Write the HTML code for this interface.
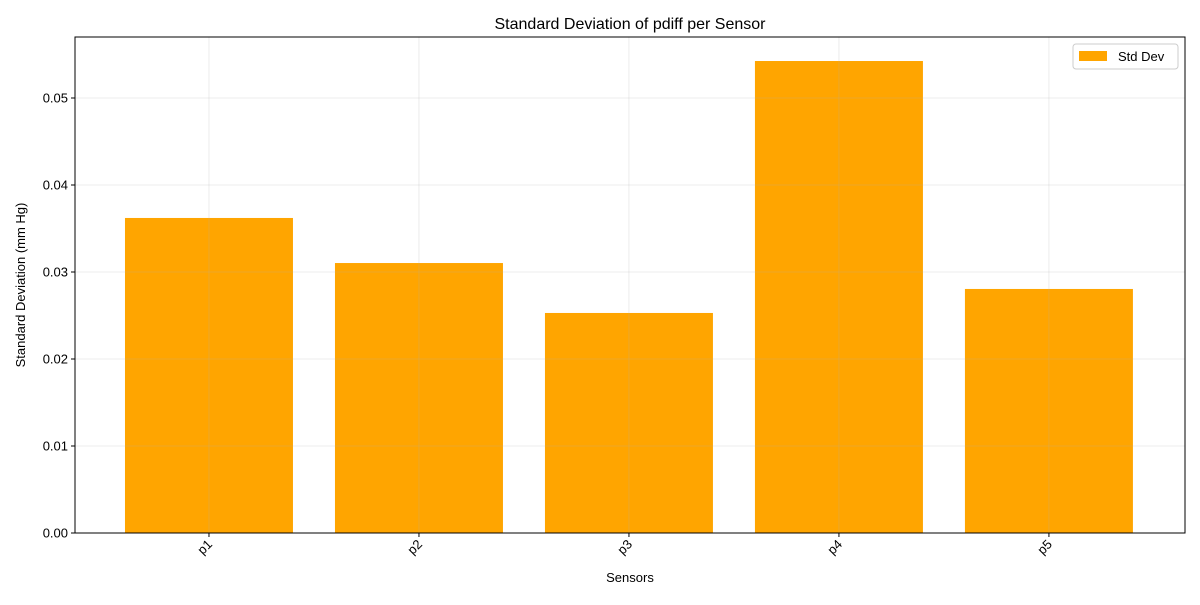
<!DOCTYPE html>
<html><head><meta charset="utf-8"><style>
body{margin:0;background:#fff;}
svg text{font-family:"Liberation Sans","DejaVu Sans",sans-serif;}
</style></head><body>
<svg id="chart" width="1200" height="600" xmlns="http://www.w3.org/2000/svg">
<rect width="1200" height="600" fill="#fff"/>
<g id="plot"></g>
</svg>
<script>
const categories = ["p1","p2","p3","p4","p5"];
const stdValues = [0.03621, 0.03103, 0.02529, 0.05425, 0.02805];
const yTicks = [0, 0.01, 0.02, 0.03, 0.04, 0.05];
const yTickLabels = ["0.00","0.01","0.02","0.03","0.04","0.05"];

const L=75,R=1185,T=37,B=533;
const yMax=0.05701;
const xMin=-0.638, xMax=4.648;
const xs=v=>L+(v-xMin)/(xMax-xMin)*(R-L);
const ys=v=>B-v/yMax*(B-T);
const NS="http://www.w3.org/2000/svg";
const g=document.getElementById('plot');
function mk(tag,attrs,parent){const e=document.createElementNS(NS,tag);for(const k in attrs)e.setAttribute(k,attrs[k]);(parent||g).appendChild(e);return e;}

// bars
categories.forEach((c,i)=>{
  const x0=xs(i-0.4),x1=xs(i+0.4);
  const b=mk('rect',{x:x0,y:ys(stdValues[i]),width:x1-x0,height:B-ys(stdValues[i]),fill:'#ffa500'});
  
  
});
// grid
yTicks.forEach((t,i)=>{
  const l=mk('line',{x1:L,x2:R,y1:ys(t),y2:ys(t),stroke:'#b0b0b0','stroke-opacity':0.3,'stroke-width':0.8});
  
  
});
categories.forEach((c,i)=>{
  const l=mk('line',{x1:xs(i),x2:xs(i),y1:T,y2:B,stroke:'#b0b0b0','stroke-opacity':0.3,'stroke-width':0.8});
  
  
});
// frame
const fr=mk('rect',{x:L,y:T,width:R-L,height:B-T,fill:'none',stroke:'#000','stroke-width':1});


// y ticks
yTicks.forEach((t,i)=>{
  mk('line',{x1:L-4,x2:L,y1:ys(t),y2:ys(t),stroke:'#000'});
  const tx=mk('text',{x:L-7,y:ys(t)+4.5,'text-anchor':'end','font-size':13});
  tx.textContent=yTickLabels[i];
  
  
});
// x ticks
categories.forEach((c,i)=>{
  const x=xs(i);
  mk('line',{x1:x,x2:x,y1:B,y2:B+4,stroke:'#000'});
  const tx=mk('text',{x:x+4,y:B+12,'text-anchor':'end','font-size':13,transform:`rotate(-45 ${x+4} ${B+12})`});
  tx.textContent=c;
  
  
});
</script>
<svg width="1200" height="600" style="position:absolute;left:0;top:0" xmlns="http://www.w3.org/2000/svg">
<text x="630" y="29" text-anchor="middle" font-size="16">Standard Deviation of pdiff per Sensor</text>
<text x="630" y="582" text-anchor="middle" font-size="13">Sensors</text>
<text x="25" y="285" text-anchor="middle" font-size="13" transform="rotate(-90 25 285)">Standard Deviation (mm Hg)</text>
<g>
<rect x="1073" y="44" width="105" height="25" rx="3" fill="#fff" fill-opacity="0.8" stroke="#ccc"/>
<rect x="1079" y="51" width="28" height="10" fill="#ffa500"/>
<text x="1118" y="61" font-size="13">Std Dev</text>
</g>
</svg>
</body></html>
